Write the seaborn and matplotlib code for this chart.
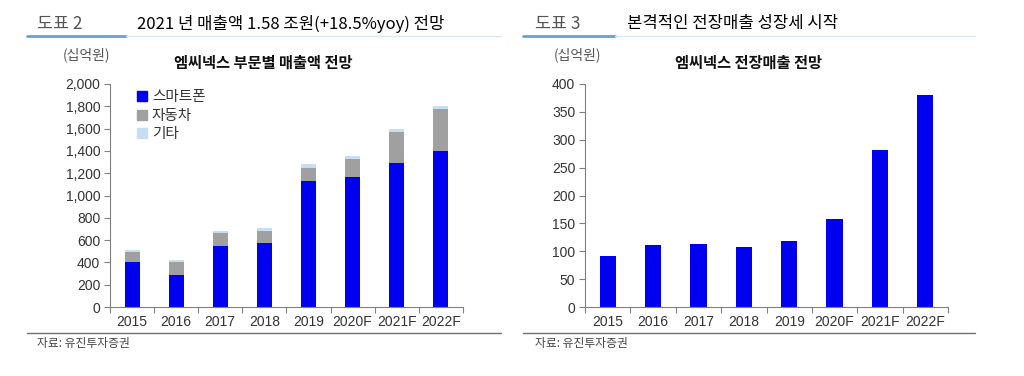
import matplotlib
matplotlib.use("Agg")
import matplotlib.pyplot as plt
from matplotlib.lines import Line2D
from matplotlib.patches import Patch
import pandas as pd
import seaborn as sns

years = ["2015", "2016", "2017", "2018", "2019", "2020F", "2021F", "2022F"]
smartphone = [400, 290, 550, 578, 1130, 1170, 1292, 1395]
auto = [92, 112, 113, 108, 119, 157, 281, 381]
other = [15, 20, 22, 25, 30, 27, 20, 28]

c_phone = "#0000F0"
c_auto = "#A0A0A0"
c_other = "#C6DDF3"

sns.set_theme(style="white")
plt.rcParams["font.family"] = ["Liberation Sans", "Noto Sans CJK KR", "DejaVu Sans"]
kr = ["Noto Sans CJK KR", "DejaVu Sans"]

df = pd.DataFrame({"year": years, "phone": smartphone, "auto": auto, "other": other})
df["s2"] = df["phone"] + df["auto"]
df["s3"] = df["s2"] + df["other"]

fig = plt.figure(figsize=(10.24, 3.76), dpi=100)
ax1 = fig.add_axes([0.1074, 0.1835, 0.3446, 0.5931])
ax2 = fig.add_axes([0.5713, 0.1835, 0.3545, 0.5931])

# stacked bars: draw cumulative totals back to front
bar_kw = dict(saturation=1, linewidth=0, edgecolor="none")
sns.barplot(data=df, x="year", y="s3", color=c_other, width=0.34, ax=ax1, **bar_kw)
sns.barplot(data=df, x="year", y="s2", color=c_auto, width=0.34, ax=ax1, **bar_kw)
sns.barplot(data=df, x="year", y="phone", color=c_phone, width=0.34, ax=ax1, **bar_kw)

sns.barplot(data=df, x="year", y="auto", color=c_phone, width=0.36, ax=ax2, **bar_kw)

for ax, top, step in [(ax1, 2000, 200), (ax2, 400, 50)]:
    ax.set_ylim(0, top)
    ax.set_xlim(-0.5, len(years) - 0.5)
    ax.set_yticks(range(0, top + 1, step))
    ax.yaxis.set_major_formatter(matplotlib.ticker.FuncFormatter(lambda v, p: f"{int(v):,}"))
    ax.set_xlabel("")
    ax.set_ylabel("")
    ax.set_xticks([i - 0.5 for i in range(len(years) + 1)], minor=True)
    ax.tick_params(axis="x", which="major", length=0, pad=6, labelsize=10, labelcolor="#333333")
    ax.tick_params(axis="x", which="minor", length=4, direction="out", color="#808080", width=0.8, bottom=True)
    ax.tick_params(axis="y", length=4, direction="out", color="#808080", width=0.8, left=True,
                   labelsize=10, labelcolor="#333333", pad=3)
    for s in ["top", "right"]:
        ax.spines[s].set_visible(False)
    for s in ["left", "bottom"]:
        ax.spines[s].set_color("#808080")
        ax.spines[s].set_linewidth(0.8)

handles = [Patch(color=c_phone, label="스마트폰"), Patch(color=c_auto, label="자동차"),
           Patch(color=c_other, label="기타")]
leg = ax1.legend(handles=handles, loc="upper left", bbox_to_anchor=(0.04, 1.03), frameon=False,
                 handlelength=0.7, handleheight=0.7, handletextpad=0.3, labelspacing=0.3,
                 prop={"family": kr, "size": 10.5})
for t in leg.get_texts():
    t.set_color("#333333")

# headers
fig.text(0.036, 0.937, "도표 2", family=kr, fontsize=12.5, color="#555555", va="center")
fig.text(0.134, 0.937, "2021 년 매출액 1.58 조원(+18.5%yoy) 전망", family=kr, fontsize=12,
         color="#000000", va="center")
fig.text(0.522, 0.937, "도표 3", family=kr, fontsize=12.5, color="#555555", va="center")
fig.text(0.612, 0.937, "본격적인 전장매출 성장세 시작", family=kr, fontsize=12,
         color="#000000", va="center")

for x0, xm, x1 in [(0.026, 0.123, 0.489), (0.511, 0.601, 0.952)]:
    fig.add_artist(Line2D([x0, xm], [0.903, 0.903], color="#6A9FD8", lw=2))
    fig.add_artist(Line2D([xm, x1], [0.903, 0.903], color="#DCE7F4", lw=1))
    fig.add_artist(Line2D([x0, x1], [0.114, 0.114], color="#707070", lw=1))

fig.text(0.061, 0.854, "(십억원)", family=kr, fontsize=10, color="#555555", va="center")
fig.text(0.257, 0.833, "엠씨넥스 부문별 매출액 전망", family=kr, fontsize=11, fontweight="bold",
         color="#111111", va="center", ha="center")
fig.text(0.541, 0.854, "(십억원)", family=kr, fontsize=10, color="#555555", va="center")
fig.text(0.731, 0.833, "엠씨넥스 전장매출 전망", family=kr, fontsize=11, fontweight="bold",
         color="#111111", va="center", ha="center")

fig.text(0.036, 0.087, "자료: 유진투자증권", family=kr, fontsize=8.5, color="#444444", va="center")
fig.text(0.522, 0.087, "자료: 유진투자증권", family=kr, fontsize=8.5, color="#444444", va="center")

fig.savefig("out.png", dpi=100)
